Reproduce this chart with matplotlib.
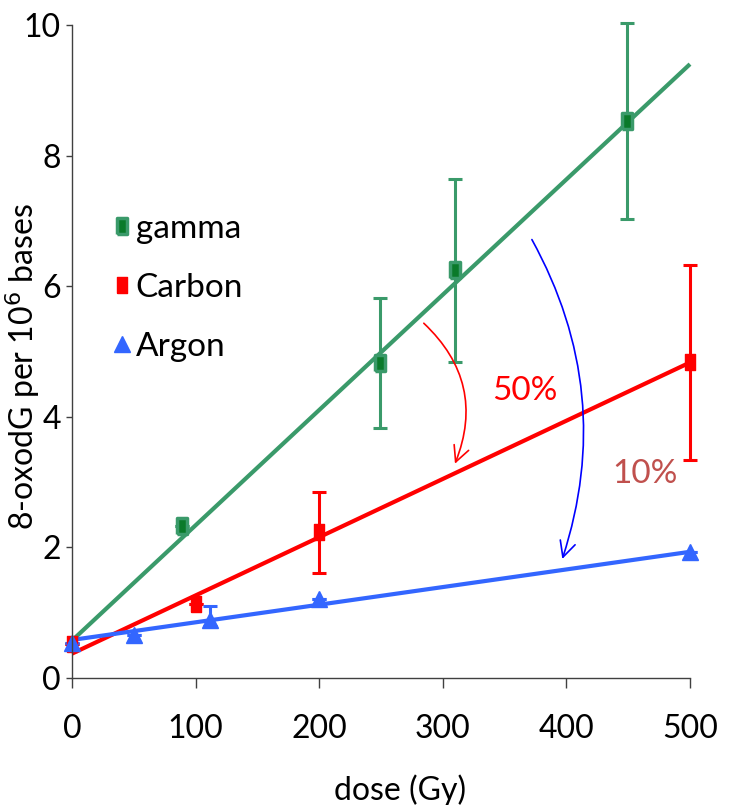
import numpy as np
import matplotlib
matplotlib.use('Agg')
import matplotlib.pyplot as plt
from matplotlib.lines import Line2D

plt.rcParams['font.family'] = ['Lato', 'DejaVu Sans']

# data
gamma_dose = [89, 249, 310, 449]
gamma_val = [2.32, 4.82, 6.24, 8.53]
gamma_err = [0.0, 1.0, 1.4, 1.5]

carbon_dose = [0, 100, 200, 500]
carbon_val = [0.52, 1.13, 2.23, 4.83]
carbon_err = [0.0, 0.0, 0.62, 1.49]

argon_dose = [0, 50, 112, 200, 500]
argon_val = [0.53, 0.66, 0.89, 1.20, 1.92]
argon_err_lo = [0.0, 0.0, 0.1, 0.0, 0.0]
argon_err_hi = [0.0, 0.0, 0.21, 0.0, 0.0]

# linear trend lines (intercept, slope)
gamma_fit = (0.57, 0.01766)
carbon_fit = (0.37, 0.00892)
argon_fit = (0.58, 0.0027)
fit_range = [0, 500]

green = '#3A9A6A'
red = '#FF0000'
blue = '#3366FF'

rect = [(-0.6, -1), (0.6, -1), (0.6, 1), (-0.6, 1), (-0.6, -1)]

fig = plt.figure(figsize=(7.3, 8.05), dpi=100)
ax = fig.add_axes([0.0986, 0.158, 0.8466, 0.811])

xs = np.array(fit_range)
ax.plot(xs, gamma_fit[0] + gamma_fit[1] * xs, color=green, lw=3, solid_capstyle='butt', clip_on=False)
ax.plot(xs, carbon_fit[0] + carbon_fit[1] * xs, color=red, lw=3, solid_capstyle='butt', clip_on=False)
ax.plot(xs, argon_fit[0] + argon_fit[1] * xs, color=blue, lw=3, solid_capstyle='butt', clip_on=False)

for d, v, e, c in [(gamma_dose, gamma_val, gamma_err, green),
                   (carbon_dose, carbon_val, carbon_err, red),
                   (argon_dose, argon_val, [argon_err_lo, argon_err_hi], blue)]:
    eb = ax.errorbar(d, v, yerr=e, fmt='none', ecolor=c,
                     elinewidth=2.2, capsize=5, capthick=2.2)
    for art in eb.lines[1] + eb.lines[2]:
        art.set_clip_on(False)

ax.plot(gamma_dose, gamma_val, ls='none', marker=rect, ms=11, mfc='#0A7A2A',
        mec=green, mew=2.5, clip_on=False)
ax.plot(carbon_dose, carbon_val, ls='none', marker=rect, ms=12, mfc=red, mec=red,
        clip_on=False)
ax.plot(argon_dose, argon_val, ls='none', marker='^', ms=11, mfc=blue, mec=blue,
        clip_on=False)

# arrows and percentages
ax.annotate('', xy=(309, 3.24), xytext=(283, 5.46),
            arrowprops=dict(arrowstyle='->', color=red, lw=1.2,
                            mutation_scale=28,
                            connectionstyle='arc3,rad=-0.35'))
ax.annotate('', xy=(396, 1.78), xytext=(371, 6.75),
            arrowprops=dict(arrowstyle='->', color='#0000FF', lw=1.2,
                            mutation_scale=28,
                            connectionstyle='arc3,rad=-0.22'))
ax.text(366, 4.4, '50%', color=red, fontsize=24, ha='center', va='center')
ax.text(464, 3.12, '10%', color='#C0504D', fontsize=24, ha='center', va='center')

handles = [
    Line2D([], [], ls='none', marker=rect, ms=11, mfc='#0A7A2A', mec=green, mew=2.5),
    Line2D([], [], ls='none', marker=rect, ms=12, mfc=red, mec=red),
    Line2D([], [], ls='none', marker='^', ms=11, mfc=blue, mec=blue),
]
ax.legend(handles, ['gamma', 'Carbon', 'Argon'], loc='upper left',
          bbox_to_anchor=(0.068, 0.711), frameon=False, fontsize=24,
          handlelength=0.5, handletextpad=0.15, labelspacing=0.87,
          borderpad=0, borderaxespad=0)

ax.set_xlim(0, 500)
ax.set_ylim(0, 10)
ax.set_xticks([0, 100, 200, 300, 400, 500])
ax.set_yticks([0, 2, 4, 6, 8, 10])
for s in ['top', 'right']:
    ax.spines[s].set_visible(False)
for s in ['left', 'bottom']:
    ax.spines[s].set_color('#404040')
    ax.spines[s].set_linewidth(1)
ax.tick_params(axis='x', length=7, width=1, color='#404040', pad=19, labelsize=23)
ax.tick_params(axis='y', length=4, width=1, color='#404040', pad=4, labelsize=23)

ax.set_xlabel('dose (Gy)', fontsize=23)
ax.xaxis.set_label_coords(0.531, -0.148)
ax.set_ylabel('8-oxodG per 10$^6$ bases', fontsize=23)
ax.yaxis.set_label_coords(-0.049, 0.477)

fig.savefig('out.png', dpi=100)
